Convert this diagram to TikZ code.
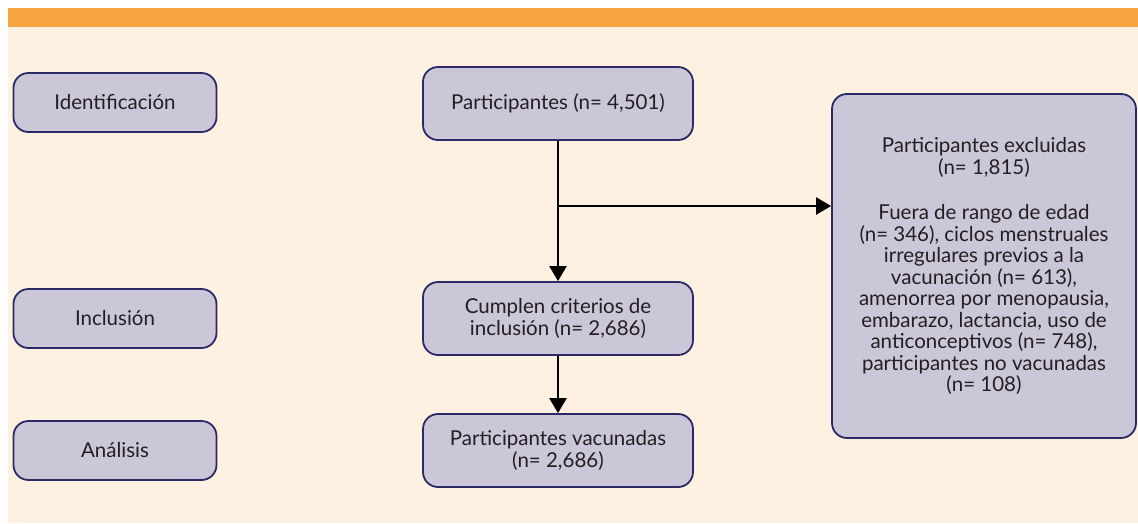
\documentclass[tikz,border=0pt]{standalone}
\usepackage{fontspec}
\setmainfont{Lato}
\usetikzlibrary{arrows.meta}
\definecolor{barorange}{HTML}{F7A541}
\definecolor{cream}{HTML}{FEF1E1}
\definecolor{boxfill}{HTML}{CBC6D8}
\definecolor{boxline}{HTML}{2B2A66}
\definecolor{inktext}{HTML}{231F20}
\begin{document}
\begin{tikzpicture}[x=1pt,y=-1pt,
    stage/.style ={rectangle, rounded corners=15pt, draw=boxline, fill=boxfill, line width=1.8pt,
      inner sep=0pt, minimum width=203pt, minimum height=59pt, text=inktext,
      font=\fontsize{20.5}{21.5}\selectfont},
    flowbox/.style ={stage, minimum width=270pt, minimum height=73pt, align=center},
    flowline/.style ={line width=2.4pt, -{Triangle[width=17pt,length=15pt]}}]
   \useasboundingbox (0,0) rectangle (1138,523);
   \fill[cream] (8,27) rectangle (1138,523);
   \fill[barorange] (8,8) rectangle (1138,27);
   \node[stage] (ident)  at (115,102.5)  {Identificación};
   \node[stage] (incl)  at (115,318.5)  {Inclusión};
   \node[stage] (anal)  at (115,450.5)  {Análisis};
   \node[flowbox] (total)  at (558,103.5)  {Participantes (n= 4,501)};
   \node[flowbox] (crit)  at (558,318.5)  {Cumplen criterios de\\inclusión (n= 2,686)};
   \node[flowbox] (vacc)  at (558,450.5)  {Participantes vacunadas\\(n= 2,686)};
   \node[flowbox, minimum width=304pt, minimum height=344pt] (excl)  at (984,266)
     {Participantes excluidas\\(n= 1,815)\\[24pt]Fuera de rango de edad\\(n= 346), ciclos menstruales\\irregulares previos a la\\vacunación (n= 613),\\amenorrea por menopausia,\\embarazo, lactancia, uso de\\anticonceptivos (n= 748),\\participantes no vacunadas\\(n= 108)};
   \coordinate (split) at (558,206);
   \draw[flowline] (total) -- (crit);
   \draw[flowline] (split) -- (split -| excl.west);
   \draw[flowline] (crit) -- (vacc);
 \end{tikzpicture}
\end{document}
